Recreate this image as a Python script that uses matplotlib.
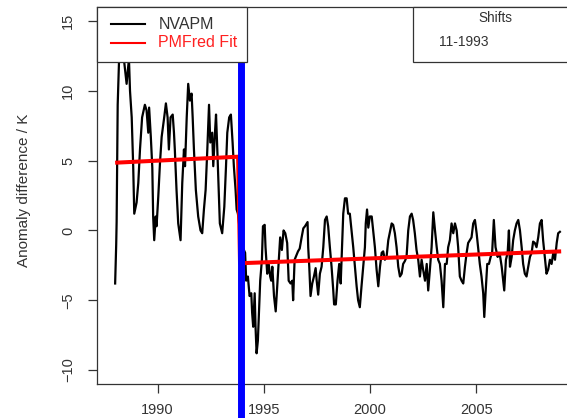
import matplotlib.pyplot as plt
from matplotlib.patches import Rectangle
from matplotlib.lines import Line2D

plt.rcParams['font.family'] = ['Liberation Sans', 'DejaVu Sans']

# NVAPM anomaly difference (K) (decimal years)
years = [
    1988.00, 1988.05, 1988.07, 1988.12, 1988.19, 1988.27, 1988.41, 1988.54, 1988.65, 1988.70,
    1988.78, 1988.85, 1988.90, 1989.01, 1989.09, 1989.17, 1989.27, 1989.40, 1989.48, 1989.56,
    1989.60, 1989.68, 1989.75, 1989.79, 1989.84, 1989.91, 1989.95, 1990.03, 1990.11, 1990.19,
    1990.31, 1990.39, 1990.47, 1990.53, 1990.61, 1990.71, 1990.77, 1990.81, 1990.89, 1990.97,
    1991.08, 1991.16, 1991.24, 1991.29, 1991.37, 1991.44, 1991.52, 1991.60, 1991.65, 1991.71,
    1991.80, 1991.91, 1992.02, 1992.10, 1992.18, 1992.26, 1992.34, 1992.42, 1992.48, 1992.57,
    1992.62, 1992.70, 1992.75, 1992.81, 1992.89, 1992.93, 1993.04, 1993.14, 1993.22, 1993.28,
    1993.37, 1993.45, 1993.53, 1993.59, 1993.67, 1993.72, 1993.78, 1993.95,
    1994.12, 1994.17, 1994.25, 1994.33, 1994.41, 1994.45, 1994.50, 1994.57, 1994.61, 1994.66,
    1994.72, 1994.77, 1994.83, 1994.91, 1994.96, 1995.04, 1995.08, 1995.16, 1995.23, 1995.30,
    1995.35, 1995.40, 1995.48, 1995.56, 1995.62, 1995.70, 1995.77, 1995.85, 1995.93, 1996.01,
    1996.10, 1996.17, 1996.26, 1996.34, 1996.38, 1996.45, 1996.53, 1996.61, 1996.69, 1996.78,
    1996.86, 1996.94, 1997.02, 1997.06, 1997.09, 1997.14, 1997.20, 1997.28, 1997.36, 1997.44,
    1997.49, 1997.56, 1997.64, 1997.72, 1997.80, 1997.88, 1997.96, 1998.03, 1998.11, 1998.19,
    1998.27, 1998.31, 1998.39, 1998.47, 1998.55, 1998.62, 1998.68, 1998.74, 1998.82, 1998.90,
    1998.97, 1999.05, 1999.13, 1999.21, 1999.29, 1999.37, 1999.44, 1999.52, 1999.60, 1999.68,
    1999.76, 1999.80, 1999.86, 1999.92, 1999.99, 2000.08, 2000.15, 2000.23, 2000.31, 2000.39,
    2000.47, 2000.55, 2000.62, 2000.70, 2000.78, 2000.86, 2000.94, 2001.02, 2001.09, 2001.17,
    2001.25, 2001.33, 2001.41, 2001.49, 2001.56, 2001.64, 2001.72, 2001.80, 2001.88, 2001.96,
    2002.03, 2002.11, 2002.19, 2002.27, 2002.35, 2002.43, 2002.50, 2002.59, 2002.67, 2002.74,
    2002.82, 2002.90, 2002.98, 2003.06, 2003.14, 2003.21, 2003.29, 2003.37, 2003.45, 2003.53,
    2003.61, 2003.68, 2003.76, 2003.84, 2003.92, 2004.00, 2004.08, 2004.15, 2004.23, 2004.31,
    2004.39, 2004.47, 2004.55, 2004.62, 2004.70, 2004.78, 2004.86, 2004.94, 2005.02, 2005.09,
    2005.17, 2005.25, 2005.33, 2005.38, 2005.44, 2005.52, 2005.60, 2005.68, 2005.75, 2005.83,
    2005.91, 2006.01, 2006.07, 2006.12, 2006.20, 2006.27, 2006.32, 2006.40, 2006.48, 2006.54,
    2006.59, 2006.67, 2006.74, 2006.82, 2006.90, 2006.98, 2007.06, 2007.14, 2007.21, 2007.29,
    2007.37, 2007.45, 2007.53, 2007.61, 2007.68, 2007.76, 2007.84, 2007.92, 2008.00, 2008.08,
    2008.15, 2008.23, 2008.31, 2008.39, 2008.47, 2008.55, 2008.63, 2008.71, 2008.79, 2008.86,
    2008.94,
]
nvapm = [
    -3.8, -1.0, 0.6, 9.0, 12.5, 12.5, 12.3, 10.5, 12.3, 10.0,
    8.1, 4.6, 1.2, 2.0, 3.4, 5.8, 8.1, 9.0, 8.6, 7.0,
    8.8, 6.7, 4.5, 1.0, -0.7, 1.0, 0.3, 2.4, 4.8, 6.7,
    8.1, 9.1, 8.1, 5.8, 8.1, 8.3, 7.0, 5.8, 2.9, 0.5,
    -0.7, 3.4, 5.8, 4.6, 8.1, 10.5, 9.3, 9.8, 8.1, 5.8,
    2.9, 1.0, 0.0, -0.2, 1.5, 2.9, 5.8, 9.0, 6.3, 7.0,
    4.6, 7.0, 8.3, 5.8, 2.2, 0.5, -0.2, 1.7, 4.6, 7.0,
    8.1, 8.3, 6.3, 4.6, 2.9, 1.5, 1.2, -1.0,
    -1.6, -3.6, -3.3, -4.7, -4.5, -5.9, -6.9, -4.5, -6.9, -8.8,
    -7.9, -5.9, -3.6, -2.1, 0.3, 0.4, -1.2, -3.1, -2.4, -3.3,
    -3.6, -2.6, -4.7, -5.8, -4.3, -2.4, -0.5, -1.4, 0.0, -0.2,
    -0.9, -3.6, -3.8, -3.6, -5.0, -2.1, -1.8, -1.5, -1.3, -0.5,
    0.15, 0.3, 0.5, 0.6, -1.2, -2.6, -4.7, -3.8, -3.3, -2.7,
    -3.6, -4.6, -3.1, -2.6, -1.2, 0.75, 1.0, 0.3, -1.2, -2.6,
    -4.3, -5.3, -5.3, -3.6, -2.4, -3.8, -1.4, 1.2, 2.3, 2.3,
    1.2, 1.2, 0.0, -1.2, -2.6, -4.0, -5.0, -5.5, -4.0, -2.6,
    -1.2, 0.5, 1.5, 0.2, 1.0, 1.0, 0.0, -1.2, -2.8, -4.0,
    -2.6, -1.6, -1.5, -2.1, -1.9, -0.7, -0.1, 0.5, 0.4, -0.2,
    -1.2, -2.6, -3.3, -3.1, -2.4, -2.2, -1.9, 0.0, 1.0, 1.2,
    0.75, -0.2, -1.4, -2.1, -3.3, -2.1, -2.8, -3.6, -2.4, -4.3,
    -2.8, -1.2, 1.3, 0.0, -1.2, -2.1, -2.4, -3.6, -5.5, -2.4,
    -2.4, -1.2, -0.7, 0.5, -0.2, 0.5, 0.0, -1.2, -3.3, -3.6,
    -3.8, -2.6, -1.6, -0.9, -0.7, -0.5, 0.5, 0.75, -0.2, -1.2,
    -2.4, -3.3, -4.5, -6.2, -4.5, -2.4, -2.4, -1.9, -1.6, 0.75,
    -1.2, -1.9, -1.6, -1.8, -2.6, -3.6, -4.3, -2.1, -1.6, 0.0,
    -2.6, -1.9, -0.7, 0.0, 0.5, 0.75, 0.0, -1.2, -2.4, -3.1,
    -3.3, -2.6, -1.9, -1.6, -0.8, -0.9, -1.2, -0.5, 0.5, 0.75,
    -0.7, -1.9, -3.1, -2.8, -2.1, -2.4, -1.6, -2.1, -0.9, -0.2,
    -0.1,
]

# PMFred fit: one linear piece on each side of the shift
fit_years = [1988.00, 1993.79, 1993.88, 2009.00]
fit_vals = [4.85, 5.28, -2.35, -1.50]

shift_year = 1993.94
shift_label = "11-1993"

W, H = 567, 418
fig = plt.figure(figsize=(W / 100, H / 100), dpi=100)
ax = fig.add_axes([97.3 / W, (H - 384) / H, (579 - 97.3) / W, (384 - 6.5) / H])

ax.plot(years, nvapm, color='black', lw=1.6, zorder=3)
ax.plot(fit_years, fit_vals, color='#ff0000', lw=2.9, zorder=4, solid_capstyle='butt')

ax.set_xlim(1987.16, 2009.84)
ax.set_ylim(-11.0, 16.04)
ax.set_xticks([1990, 1995, 2000, 2005])
ax.set_yticks([-10, -5, 0, 5, 10, 15])

gray = '#333333'
for s in ['left', 'top', 'bottom', 'right']:
    ax.spines[s].set_color(gray)
    ax.spines[s].set_linewidth(0.9)
ax.tick_params(axis='both', length=6.5, width=0.9, color=gray, labelcolor=gray, labelsize=10.5)
ax.tick_params(axis='x', pad=7.5)
ax.tick_params(axis='y', pad=9.5, labelrotation=90)
for lab in ax.get_yticklabels():
    lab.set_va('center')

fig.text(24 / W, 1 - 190 / H, "Anomaly difference / K", rotation=90, ha='center', va='center',
         fontsize=11, color=gray)

# legend box (top left)
def fx(x):
    return x / W

def fy(y):
    return 1 - y / H

fig.patches.append(Rectangle((fx(97.3), fy(61.5)), fx(246.7) - fx(97.3), fy(6.5) - fy(61.5),
                             transform=fig.transFigure, facecolor='white', edgecolor=gray,
                             lw=0.9, zorder=5))
fig.lines.append(Line2D([fx(111), fx(144.5)], [fy(24.3), fy(24.3)], transform=fig.transFigure,
                        color='black', lw=1.5, zorder=6))
fig.lines.append(Line2D([fx(111), fx(144.5)], [fy(42.8), fy(42.8)], transform=fig.transFigure,
                        color='#ff0000', lw=1.5, zorder=6))
fig.text(fx(158.4), fy(24.3), "NVAPM", ha='left', va='center', fontsize=11.5, color=gray, zorder=6)
fig.text(fx(158.4), fy(42.8), "PMFred Fit", ha='left', va='center', fontsize=11.5,
         color='#ff2020', zorder=6)

# shifts box (top right)
fig.patches.append(Rectangle((fx(413), fy(61.5)), fx(600) - fx(413), fy(6.5) - fy(61.5),
                             transform=fig.transFigure, facecolor='white', edgecolor=gray,
                             lw=0.9, zorder=5))
fig.text(fx(495), fy(18.5), "Shifts", ha='center', va='center', fontsize=9.8, color=gray, zorder=6)
fig.text(fx(439), fy(41.5), shift_label, ha='left', va='center', fontsize=10, color=gray, zorder=6)

# shift marker, drawn over everything and past the axes bottom
ax.plot([shift_year, shift_year], [12.64, -20], color='#0000ff', lw=5, zorder=10,
        clip_on=False, solid_capstyle='butt')

fig.savefig('out.png', dpi=100)
